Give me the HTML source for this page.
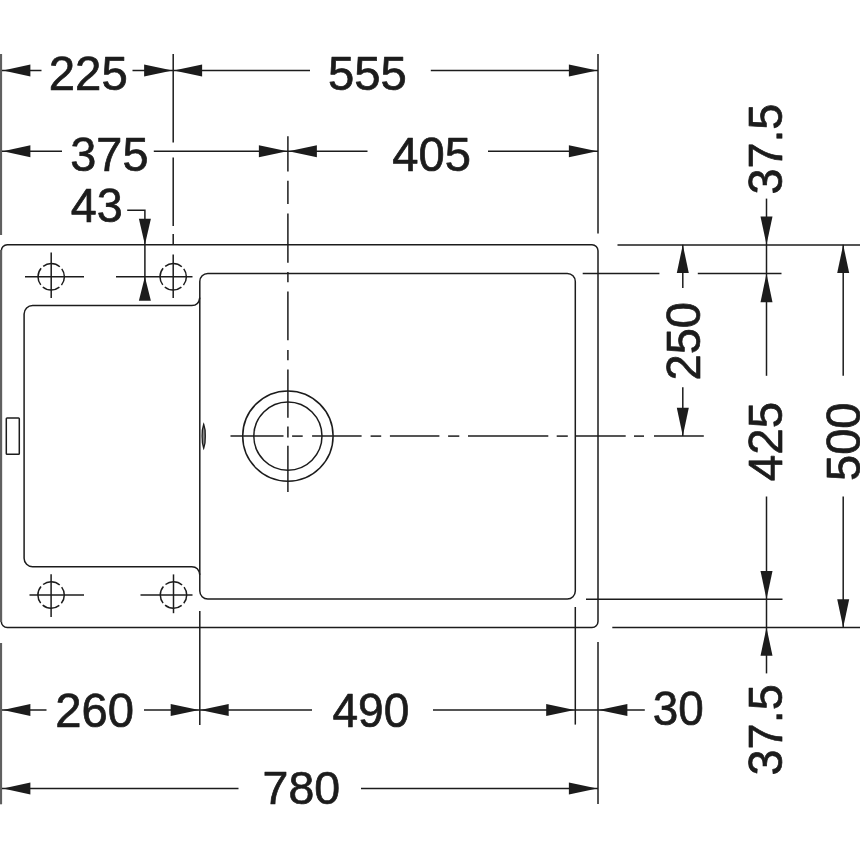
<!DOCTYPE html>
<html lang="en"><head><meta charset="utf-8"><title>Sink dimensions 780 x 500</title>
<style>
html,body{margin:0;padding:0;background:#fff;}
body{width:860px;height:860px;overflow:hidden;}
svg{display:block;will-change:transform;font-family:"Liberation Sans",Arial,Helvetica,sans-serif;}
svg g{stroke:#1c1c1c;fill:none;}
svg text{fill:#1c1c1c;stroke:#1c1c1c;stroke-width:0.7px;stroke-linejoin:round;}
svg .a{fill:#1c1c1c;stroke:none;}
</style></head>
<body>
<svg width="860" height="860" viewBox="0 0 860 860">
<rect x="0" y="0" width="860" height="860" style="fill:#fff;stroke:none"/>
<g>
<path d="M7.3,244.7 H592 A6,6 0 0 1 598,250.7 V621.5 A6,6 0 0 1 592,627.5 H7.3 A6,6 0 0 1 1.3,621.5 V250.7 A6,6 0 0 1 7.3,244.7 Z" stroke-width="1.5" />
<line x1="1.05" y1="250" x2="1.05" y2="622" stroke-width="2.1" style="stroke:#606060"/>
<path d="M207.8,273.5 H567.3 A8,8 0 0 1 575.3,281.5 V591.1 A8,8 0 0 1 567.3,599.1 H207.8 A8,8 0 0 1 199.8,591.1 V281.5 A8,8 0 0 1 207.8,273.5 Z" stroke-width="1.5" />
<path d="M199.8,297.6 Q198.8,305.6 191.8,305.6 H32.6 A8.5,8.5 0 0 0 24.1,314.1 V558.3 A8.5,8.5 0 0 0 32.6,566.8 H191.8 Q198.8,566.8 199.8,574.8" stroke-width="1.5" />
<rect x="6.3" y="418" width="13" height="36.3" rx="0.8" stroke-width="1.5"/>
<path d="M203.7,424.2 Q205.5,429 205.3,436.2 Q205.5,443.5 203.7,448.3 Q202,443.5 202.1,436.2 Q202,429 203.7,424.2 Z" stroke-width="1.3" style="fill:#888"/>
<circle cx="287.9" cy="436.1" r="45.2" stroke-width="1.5"/>
<circle cx="287.9" cy="436.1" r="34.1" stroke-width="1.5"/>
<circle cx="51.2" cy="276.8" r="13.2" stroke-width="1.5" stroke-dasharray="17.9 2.83" stroke-dashoffset="8.95"/>
<line x1="25" y1="276.8" x2="84" y2="276.8" stroke-width="1.5" />
<line x1="51.2" y1="252.5" x2="51.2" y2="298" stroke-width="1.5" />
<circle cx="173.2" cy="276.8" r="13.2" stroke-width="1.5" stroke-dasharray="17.9 2.83" stroke-dashoffset="8.95"/>
<line x1="116" y1="276.8" x2="192.5" y2="276.8" stroke-width="1.5" />
<line x1="173.2" y1="254.4" x2="173.2" y2="298" stroke-width="1.5" />
<circle cx="51.1" cy="595" r="13.2" stroke-width="1.5" stroke-dasharray="17.9 2.83" stroke-dashoffset="8.95"/>
<line x1="29.5" y1="595" x2="84" y2="595" stroke-width="1.5" />
<line x1="51.1" y1="574.3" x2="51.1" y2="617" stroke-width="1.5" />
<circle cx="173.5" cy="595" r="13.2" stroke-width="1.5" stroke-dasharray="17.9 2.83" stroke-dashoffset="8.95"/>
<line x1="140.5" y1="595" x2="192.5" y2="595" stroke-width="1.5" />
<line x1="173.5" y1="574.4" x2="173.5" y2="613.2" stroke-width="1.5" />
<line x1="1.05" y1="54" x2="1.05" y2="235" stroke-width="2.1" style="stroke:#606060"/>
<line x1="1.05" y1="643" x2="1.05" y2="804.3" stroke-width="2.1" style="stroke:#606060"/>
<line x1="173.2" y1="54" x2="173.2" y2="142.5" stroke-width="1.5" />
<line x1="173.2" y1="157.5" x2="173.2" y2="226" stroke-width="1.5" />
<line x1="173.2" y1="234" x2="173.2" y2="245" stroke-width="1.5" />
<line x1="598" y1="54" x2="598" y2="233.5" stroke-width="1.5" />
<line x1="598" y1="642" x2="598" y2="804" stroke-width="1.5" />
<line x1="199.8" y1="611" x2="199.8" y2="725" stroke-width="1.5" />
<line x1="575.3" y1="607" x2="575.3" y2="724.6" stroke-width="1.5" />
<line x1="287.9" y1="136.2" x2="287.9" y2="171.5" stroke-width="1.5" />
<line x1="287.9" y1="180.8" x2="287.9" y2="204.1" stroke-width="1.5" />
<line x1="287.9" y1="213.4" x2="287.9" y2="262.7" stroke-width="1.5" />
<line x1="287.9" y1="272" x2="287.9" y2="282.2" stroke-width="1.5" />
<line x1="287.9" y1="291.4" x2="287.9" y2="340.3" stroke-width="1.5" />
<line x1="287.9" y1="350" x2="287.9" y2="360.2" stroke-width="1.5" />
<line x1="287.9" y1="369.5" x2="287.9" y2="417.8" stroke-width="1.5" />
<line x1="287.9" y1="426.4" x2="287.9" y2="437.6" stroke-width="1.5" />
<line x1="287.9" y1="445.8" x2="287.9" y2="492" stroke-width="1.5" />
<line x1="230.5" y1="436.1" x2="283.5" y2="436.1" stroke-width="1.5" />
<line x1="292.1" y1="436.1" x2="302.7" y2="436.1" stroke-width="1.5" />
<line x1="312.1" y1="436.1" x2="361.6" y2="436.1" stroke-width="1.5" />
<line x1="370.6" y1="436.1" x2="381.2" y2="436.1" stroke-width="1.5" />
<line x1="389.9" y1="436.1" x2="439.4" y2="436.1" stroke-width="1.5" />
<line x1="448.1" y1="436.1" x2="459.3" y2="436.1" stroke-width="1.5" />
<line x1="468" y1="436.1" x2="548.3" y2="436.1" stroke-width="1.5" />
<line x1="556.7" y1="436.1" x2="567.8" y2="436.1" stroke-width="1.5" />
<line x1="575.8" y1="436.1" x2="625.7" y2="436.1" stroke-width="1.5" />
<line x1="634" y1="436.1" x2="644" y2="436.1" stroke-width="1.5" />
<line x1="654" y1="436.1" x2="703.8" y2="436.1" stroke-width="1.5" />
<line x1="617.5" y1="244.89999999999998" x2="860" y2="244.89999999999998" stroke-width="1.5" />
<line x1="582.7" y1="273.5" x2="659.4" y2="273.5" stroke-width="1.5" />
<line x1="697.8" y1="273.5" x2="781.5" y2="273.5" stroke-width="1.5" />
<line x1="586" y1="599.3" x2="782.5" y2="599.3" stroke-width="1.5" />
<line x1="612.3" y1="627.5" x2="860" y2="627.5" stroke-width="1.5" />
<polygon class="a" points="3.0,70.4 30.4,64.4 30.4,76.4"/>
<line x1="2" y1="70.4" x2="41.5" y2="70.4" stroke-width="1.5" />
<line x1="132.5" y1="70.4" x2="173" y2="70.4" stroke-width="1.5" />
<polygon class="a" points="172.39999999999998,70.4 144.09999999999997,64.4 144.09999999999997,76.4"/>
<polygon class="a" points="173.79999999999998,70.4 202.1,64.4 202.1,76.4"/>
<line x1="173" y1="70.4" x2="310" y2="70.4" stroke-width="1.5" />
<line x1="430.8" y1="70.4" x2="598" y2="70.4" stroke-width="1.5" />
<polygon class="a" points="597.2,70.4 568.9000000000001,64.4 568.9000000000001,76.4"/>
<text transform="translate(48.8 89.9) scale(0.996 1)" font-size="47.5">225</text>
<text transform="translate(328.1 90.1) scale(0.994 1)" font-size="47.5">555</text>
<polygon class="a" points="3.0,151.3 30.4,145.3 30.4,157.3"/>
<line x1="2" y1="151.3" x2="62" y2="151.3" stroke-width="1.5" />
<line x1="153.8" y1="151.3" x2="288" y2="151.3" stroke-width="1.5" />
<polygon class="a" points="287.2,151.3 258.9,145.3 258.9,157.3"/>
<polygon class="a" points="288.6,151.3 316.90000000000003,145.3 316.90000000000003,157.3"/>
<line x1="288" y1="151.3" x2="367.5" y2="151.3" stroke-width="1.5" />
<line x1="488" y1="151.3" x2="598" y2="151.3" stroke-width="1.5" />
<polygon class="a" points="597.2,151.3 568.9000000000001,145.3 568.9000000000001,157.3"/>
<text transform="translate(70.3 171) scale(0.987 1)" font-size="47.5">375</text>
<text transform="translate(392.2 171) scale(0.993 1)" font-size="47.5">405</text>
<text transform="translate(70.8 222.3) scale(0.983 1)" font-size="47.5">43</text>
<path d="M127.2,210.3 H144.9 V290" stroke-width="1.5" />
<polygon class="a" points="144.9,244.8 138.9,218.8 150.9,218.8"/>
<polygon class="a" points="144.9,276.8 138.9,300.8 150.9,300.8"/>
<polygon class="a" points="3.0,710 30.4,704.0 30.4,716.0"/>
<line x1="2" y1="710" x2="46.5" y2="710" stroke-width="1.5" />
<line x1="144" y1="710" x2="199.8" y2="710" stroke-width="1.5" />
<polygon class="a" points="199.0,710 170.7,704.0 170.7,716.0"/>
<polygon class="a" points="200.4,710 228.70000000000002,704.0 228.70000000000002,716.0"/>
<line x1="199.8" y1="710" x2="312" y2="710" stroke-width="1.5" />
<line x1="433" y1="710" x2="575.3" y2="710" stroke-width="1.5" />
<polygon class="a" points="574.5,710 546.2,704.0 546.2,716.0"/>
<polygon class="a" points="598.8000000000001,710 627.4000000000001,704.0 627.4000000000001,716.0"/>
<line x1="575.3" y1="710" x2="644.8" y2="710" stroke-width="1.5" />
<text transform="translate(55.2 727.4) scale(0.994 1)" font-size="47.5">260</text>
<text transform="translate(332.4 727.2) scale(0.97 1)" font-size="47.5">490</text>
<text transform="translate(652.8 725) scale(0.965 1)" font-size="47.5">30</text>
<polygon class="a" points="3.0,788.6 30.4,782.6 30.4,794.6"/>
<line x1="2" y1="788.6" x2="238.5" y2="788.6" stroke-width="1.5" />
<line x1="361" y1="788.6" x2="598" y2="788.6" stroke-width="1.5" />
<polygon class="a" points="597.2,788.6 568.9000000000001,782.6 568.9000000000001,794.6"/>
<text transform="translate(262.6 803.9) scale(0.979 0.992)" font-size="47.5">780</text>
<polygon class="a" points="682.8,244.7 676.8,273.0 688.8,273.0"/>
<line x1="682.8" y1="244.7" x2="682.8" y2="288" stroke-width="1.5" />
<line x1="682.8" y1="387.2" x2="682.8" y2="436.1" stroke-width="1.5" />
<polygon class="a" points="682.8,436.1 676.8,407.8 688.8,407.8"/>
<text transform="translate(699.8 380.5) rotate(-90) scale(0.99 1)" font-size="47.5">250</text>
<line x1="766.5" y1="198.6" x2="766.5" y2="375.8" stroke-width="1.5" />
<line x1="766.5" y1="496.5" x2="766.5" y2="673.4" stroke-width="1.5" />
<polygon class="a" points="766.5,244.7 760.5,216.39999999999998 772.5,216.39999999999998"/>
<polygon class="a" points="766.5,273.5 760.5,302.3 772.5,302.3"/>
<polygon class="a" points="766.5,599.3 760.5,571.0 772.5,571.0"/>
<polygon class="a" points="766.5,627.5 760.5,655.8 772.5,655.8"/>
<text transform="translate(781.5 194.6) rotate(-90) scale(0.984 1)" font-size="47.5">37.5</text>
<text transform="translate(782.1 481.2) rotate(-90)" font-size="47.5">425</text>
<text transform="translate(781.5 775.5) rotate(-90) scale(0.987 1)" font-size="47.5">37.5</text>
<polygon class="a" points="843.2,244.7 837.2,273.0 849.2,273.0"/>
<line x1="843.2" y1="244.7" x2="843.2" y2="375.8" stroke-width="1.5" />
<line x1="843.2" y1="496.5" x2="843.2" y2="627.5" stroke-width="1.5" />
<polygon class="a" points="843.2,627.5 837.2,599.2 849.2,599.2"/>
<text transform="translate(859.5 481) rotate(-90) scale(0.99 1)" font-size="47.5">500</text>
</g>
</svg>
</body></html>
